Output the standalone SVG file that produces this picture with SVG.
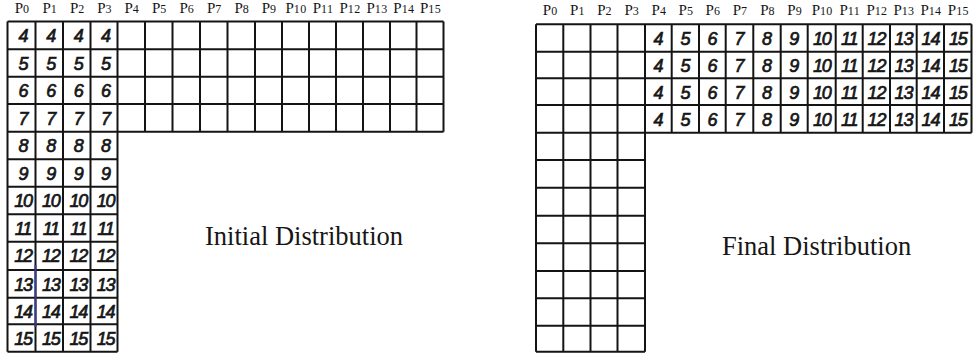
<svg xmlns="http://www.w3.org/2000/svg" width="974" height="359" viewBox="0 0 974 359">
<style>
.bg{fill:#fff}
.grid{fill:none;stroke:#141414;stroke-width:2}
.num{font-family:"Liberation Sans",Arial,sans-serif;font-style:italic;font-size:18px;fill:#161616;stroke:#161616;stroke-width:0.7;text-anchor:middle}
.num .w{letter-spacing:-1.2px}
.hdr{font-family:"Liberation Serif","Times New Roman",serif;font-size:15px;fill:#161616;text-anchor:middle}
.sub{font-size:12px;letter-spacing:0.3px}
.lbl{font-family:"Liberation Serif","Times New Roman",serif;font-size:26.5px;fill:#161616}
</style>
<rect class="bg" x="0" y="0" width="974" height="359"/>
<g id="initial-headers" class="hdr">
<text x="22" y="13">P<tspan class="sub">0</tspan></text>
<text x="49.8" y="13">P<tspan class="sub">1</tspan></text>
<text x="77.3" y="13">P<tspan class="sub">2</tspan></text>
<text x="104.5" y="13">P<tspan class="sub">3</tspan></text>
<text x="131.8" y="13">P<tspan class="sub">4</tspan></text>
<text x="159.3" y="13">P<tspan class="sub">5</tspan></text>
<text x="186.8" y="13">P<tspan class="sub">6</tspan></text>
<text x="214.3" y="13">P<tspan class="sub">7</tspan></text>
<text x="241.8" y="13">P<tspan class="sub">8</tspan></text>
<text x="269" y="13">P<tspan class="sub">9</tspan></text>
<text x="296" y="13">P<tspan class="sub">10</tspan></text>
<text x="323" y="13">P<tspan class="sub">11</tspan></text>
<text x="350" y="13">P<tspan class="sub">12</tspan></text>
<text x="377" y="13">P<tspan class="sub">13</tspan></text>
<text x="403.8" y="13">P<tspan class="sub">14</tspan></text>
<text x="430.5" y="13">P<tspan class="sub">15</tspan></text>
</g>
<g id="initial-grid">
<path class="grid" d="M7.5 21.5H443.5M7.5 49.3H443.5M7.5 76.7H443.5M7.5 104H443.5M7.5 131.7H443.5M7.5 159.3H117.5M7.5 186.7H117.5M7.5 214.3H117.5M7.5 241.7H117.5M7.5 270H117.5M7.5 297.7H117.5M7.5 324.3H117.5M7.5 351.7H117.5M7.5 21.5V351.7M35.5 21.5V351.7M63 21.5V351.7M90.5 21.5V351.7M117.5 21.5V351.7M145 21.5V131.7M172.5 21.5V131.7M200 21.5V131.7M227.5 21.5V131.7M255 21.5V131.7M282 21.5V131.7M309 21.5V131.7M336 21.5V131.7M363 21.5V131.7M390 21.5V131.7M416.5 21.5V131.7M443.5 21.5V131.7"/>
<path d="M35.5 265V327" fill="none" stroke="#3a3a8a" stroke-width="2"/>
</g>
<g id="initial-values" class="num">
<text x="23.5" y="42">4</text><text x="51.3" y="42">4</text><text x="78.8" y="42">4</text><text x="106" y="42">4</text>
<text x="23.5" y="69.8">5</text><text x="51.3" y="69.8">5</text><text x="78.8" y="69.8">5</text><text x="106" y="69.8">5</text>
<text x="23.5" y="97.2">6</text><text x="51.3" y="97.2">6</text><text x="78.8" y="97.2">6</text><text x="106" y="97.2">6</text>
<text x="23.5" y="124.5">7</text><text x="51.3" y="124.5">7</text><text x="78.8" y="124.5">7</text><text x="106" y="124.5">7</text>
<text x="23.5" y="152.2">8</text><text x="51.3" y="152.2">8</text><text x="78.8" y="152.2">8</text><text x="106" y="152.2">8</text>
<text x="23.5" y="179.8">9</text><text x="51.3" y="179.8">9</text><text x="78.8" y="179.8">9</text><text x="106" y="179.8">9</text>
<g class="w">
<text x="23" y="207.2">10</text><text x="50.8" y="207.2">10</text><text x="78.3" y="207.2">10</text><text x="105.5" y="207.2">10</text>
<text x="23" y="234.8">11</text><text x="50.8" y="234.8">11</text><text x="78.3" y="234.8">11</text><text x="105.5" y="234.8">11</text>
<text x="23" y="262.2">12</text><text x="50.8" y="262.2">12</text><text x="78.3" y="262.2">12</text><text x="105.5" y="262.2">12</text>
<text x="23" y="290.5">13</text><text x="50.8" y="290.5">13</text><text x="78.3" y="290.5">13</text><text x="105.5" y="290.5">13</text>
<text x="23" y="318.2">14</text><text x="50.8" y="318.2">14</text><text x="78.3" y="318.2">14</text><text x="105.5" y="318.2">14</text>
<text x="23" y="344.8">15</text><text x="50.8" y="344.8">15</text><text x="78.3" y="344.8">15</text><text x="105.5" y="344.8">15</text>
</g>
</g>
<g id="initial-label">
<text class="lbl" x="205" y="245">Initial Distribution</text>
</g>
<g id="final-headers" class="hdr">
<text x="550.2" y="15">P<tspan class="sub">0</tspan></text>
<text x="577.4" y="15">P<tspan class="sub">1</tspan></text>
<text x="604.5" y="15">P<tspan class="sub">2</tspan></text>
<text x="631.8" y="15">P<tspan class="sub">3</tspan></text>
<text x="658.9" y="15">P<tspan class="sub">4</tspan></text>
<text x="685.9" y="15">P<tspan class="sub">5</tspan></text>
<text x="712.9" y="15">P<tspan class="sub">6</tspan></text>
<text x="740" y="15">P<tspan class="sub">7</tspan></text>
<text x="767.5" y="15">P<tspan class="sub">8</tspan></text>
<text x="794.7" y="15">P<tspan class="sub">9</tspan></text>
<text x="822.2" y="15">P<tspan class="sub">10</tspan></text>
<text x="849.7" y="15">P<tspan class="sub">11</tspan></text>
<text x="876.9" y="15">P<tspan class="sub">12</tspan></text>
<text x="903.9" y="15">P<tspan class="sub">13</tspan></text>
<text x="930.9" y="15">P<tspan class="sub">14</tspan></text>
<text x="958.3" y="15">P<tspan class="sub">15</tspan></text>
</g>
<g id="final-grid">
<path class="grid" d="M536 24.3H971.5M536 51.7H971.5M536 78.3H971.5M536 105H971.5M536 132.7H971.5M536 160H645M536 187.7H645M536 215.7H645M536 243.3H645M536 271H645M536 298.3H645M536 325.7H645M536 351.7H645M536 24.3V351.7M563.3 24.3V351.7M590.5 24.3V351.7M617.5 24.3V351.7M645 24.3V351.7M671.7 24.3V132.7M699 24.3V132.7M725.7 24.3V132.7M753.3 24.3V132.7M780.7 24.3V132.7M807.7 24.3V132.7M835.7 24.3V132.7M862.7 24.3V132.7M890 24.3V132.7M916.7 24.3V132.7M944 24.3V132.7M971.5 24.3V132.7"/>
</g>
<g id="final-values" class="num">
<text x="658.4" y="44.8">4</text><text x="685.4" y="44.8">5</text><text x="712.4" y="44.8">6</text><text x="739.5" y="44.8">7</text><text x="767" y="44.8">8</text><text x="794.2" y="44.8">9</text><g class="w"><text x="821.7" y="44.8">10</text><text x="849.2" y="44.8">11</text><text x="876.4" y="44.8">12</text><text x="903.4" y="44.8">13</text><text x="930.4" y="44.8">14</text><text x="957.8" y="44.8">15</text></g>
<text x="658.4" y="71.8">4</text><text x="685.4" y="71.8">5</text><text x="712.4" y="71.8">6</text><text x="739.5" y="71.8">7</text><text x="767" y="71.8">8</text><text x="794.2" y="71.8">9</text><g class="w"><text x="821.7" y="71.8">10</text><text x="849.2" y="71.8">11</text><text x="876.4" y="71.8">12</text><text x="903.4" y="71.8">13</text><text x="930.4" y="71.8">14</text><text x="957.8" y="71.8">15</text></g>
<text x="658.4" y="98.6">4</text><text x="685.4" y="98.6">5</text><text x="712.4" y="98.6">6</text><text x="739.5" y="98.6">7</text><text x="767" y="98.6">8</text><text x="794.2" y="98.6">9</text><g class="w"><text x="821.7" y="98.6">10</text><text x="849.2" y="98.6">11</text><text x="876.4" y="98.6">12</text><text x="903.4" y="98.6">13</text><text x="930.4" y="98.6">14</text><text x="957.8" y="98.6">15</text></g>
<text x="658.4" y="125.8">4</text><text x="685.4" y="125.8">5</text><text x="712.4" y="125.8">6</text><text x="739.5" y="125.8">7</text><text x="767" y="125.8">8</text><text x="794.2" y="125.8">9</text><g class="w"><text x="821.7" y="125.8">10</text><text x="849.2" y="125.8">11</text><text x="876.4" y="125.8">12</text><text x="903.4" y="125.8">13</text><text x="930.4" y="125.8">14</text><text x="957.8" y="125.8">15</text></g>
</g>
<g id="final-label">
<text class="lbl" x="722" y="255">Final Distribution</text>
</g>
</svg>
